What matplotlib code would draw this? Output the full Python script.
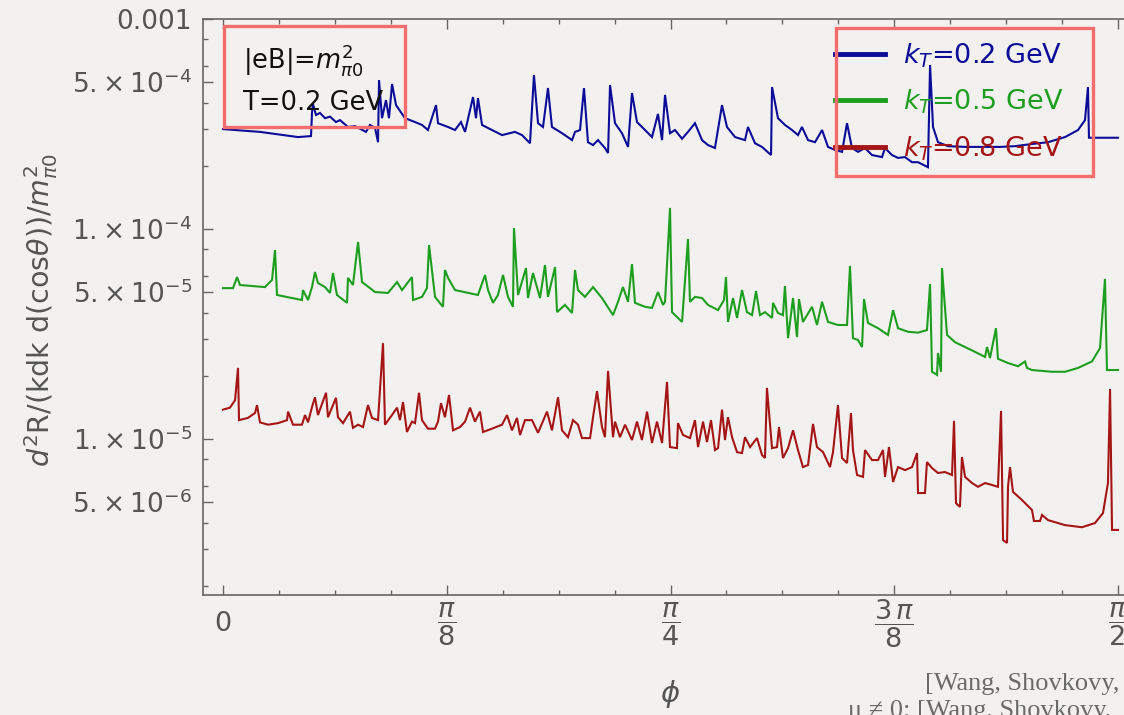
import numpy as np
import matplotlib
matplotlib.use("Agg")
import matplotlib.pyplot as plt
from matplotlib.patches import Rectangle
from matplotlib.ticker import FixedLocator, FixedFormatter, NullFormatter

W, H, DPI = 1124, 715, 100

# ---------------- data (phi in degrees, rate in units of 1e-5) ----------------
phi_02 = [0.0, 3.72, 7.54, 8.85, 8.95, 9.05, 9.35, 9.75, 10.26, 10.76, 11.36, 11.77, 12.57, 13.27, 14.38, 14.78,
          15.29, 15.59, 15.69, 15.99, 16.39, 16.69, 17.0, 17.4, 18.3, 19.31, 20.01, 20.61, 21.42, 21.62, 22.63,
          23.33, 23.93, 24.34, 25.14, 25.44, 25.64, 26.05, 27.05, 28.06, 29.36, 30.07, 30.87, 31.27, 31.68, 32.18,
          32.68, 33.08, 34.09, 35.1, 35.4, 35.9, 36.3, 36.7, 37.21, 37.71, 38.41, 38.72, 38.92, 39.42, 40.12, 40.73,
          41.13, 41.63, 42.44, 43.14, 43.74, 44.15, 44.45, 44.95, 45.45, 46.16, 46.76, 47.46, 48.17, 48.77, 49.47,
          50.18, 50.68, 51.49, 52.49, 52.79, 53.5, 54.2, 55.11, 55.21, 55.81, 56.51, 57.22, 57.82, 58.22, 58.83,
          59.53, 60.24, 60.84, 61.54, 62.25, 62.75, 63.25, 63.86, 64.56, 65.26, 66.27, 66.57, 67.27, 67.88, 68.58,
          69.29, 69.89, 70.89, 71.1, 71.4, 71.9, 72.91, 74.62, 76.63, 78.14, 79.64, 81.35, 82.96, 84.67, 85.98,
          86.68, 86.98, 87.08, 90.0]
rate_02 = [29.9, 29.0, 27.4, 27.7, 35.7, 39.3, 34.9, 35.7, 33.7, 34.3, 32.3, 33.0, 30.6, 30.9, 29.0, 31.3, 30.3,
           25.9, 51.2, 33.7, 41.1, 33.7, 49.0, 38.9, 33.7, 32.3, 31.3, 29.6, 38.9, 31.9, 30.6, 29.6, 32.3, 29.0,
           42.5, 33.7, 42.0, 31.3, 29.6, 28.0, 29.0, 28.0, 25.6, 54.1, 31.9, 30.6, 46.9, 30.6, 28.6, 26.5, 29.0,
           29.6, 46.9, 25.9, 25.1, 26.5, 24.3, 23.0, 48.5, 31.9, 28.6, 24.6, 44.4, 32.3, 29.6, 27.4, 35.3, 26.5,
           43.5, 28.6, 29.6, 26.9, 29.0, 31.9, 26.5, 25.1, 24.3, 38.9, 30.6, 27.4, 26.5, 30.6, 25.6, 24.6, 22.5,
           47.4, 33.7, 31.3, 29.6, 28.0, 30.6, 26.5, 25.9, 29.6, 24.6, 23.8, 23.3, 31.9, 24.3, 23.3, 24.3, 22.5,
           22.0, 24.3, 22.5, 21.8, 22.0, 20.8, 20.8, 19.7, 60.4, 30.6, 25.9, 24.8, 24.6, 24.6, 24.6, 24.8, 25.4,
           25.9, 27.4, 29.6, 33.0, 47.4, 27.2, 27.2]

phi_05 = [0.0, 1.01, 1.41, 1.71, 4.22, 4.93, 5.23, 5.43, 6.94, 7.94, 8.04, 8.55, 8.95, 9.25, 9.55, 10.26, 10.76,
          11.06, 11.46, 12.47, 12.57, 13.07, 13.58, 13.98, 15.29, 16.59, 17.5, 18.0, 19.0, 19.11, 20.01, 20.51,
          20.72, 21.32, 22.12, 22.32, 22.63, 23.33, 25.64, 26.35, 26.65, 27.15, 27.65, 28.16, 28.66, 29.16, 29.26,
          29.67, 30.47, 30.67, 31.17, 31.88, 32.38, 32.68, 33.39, 33.59, 34.39, 35.1, 35.4, 35.7, 36.4, 37.21,
          38.11, 39.22, 39.72, 40.22, 40.73, 41.13, 41.43, 42.44, 43.14, 43.74, 44.25, 44.45, 44.95, 45.15, 45.65,
          46.16, 46.46, 46.76, 46.96, 47.46, 48.17, 48.77, 49.78, 50.38, 50.58, 50.78, 51.29, 51.69, 52.19, 52.69,
          53.2, 53.6, 54.0, 54.5, 55.21, 55.31, 55.81, 56.31, 56.51, 56.82, 57.32, 57.72, 57.92, 58.32, 59.23,
          59.73, 60.24, 60.84, 61.84, 62.75, 63.05, 63.35, 63.86, 64.26, 64.46, 64.86, 65.87, 66.87, 67.38, 67.88,
          68.88, 69.89, 70.79, 71.1, 71.3, 71.8, 71.9, 72.2, 72.3, 72.81, 73.61, 74.62, 75.62, 76.63, 76.83, 77.13,
          77.73, 77.93, 78.94, 79.95, 80.65, 80.85, 81.35, 83.36, 84.67, 85.98, 87.38, 88.19, 88.69, 88.89, 90.0]
rate_05 = [5.23, 5.23, 5.90, 5.41, 5.29, 5.72, 7.94, 4.85, 4.69, 4.59, 5.12, 4.59, 5.29, 6.24, 5.53, 5.29, 4.96,
           6.17, 4.85, 4.45, 5.85, 5.41, 8.67, 5.59, 5.01, 4.96, 5.59, 5.12, 5.90, 4.59, 4.75, 5.23, 8.39, 4.75,
           4.26, 6.38, 5.85, 5.12, 4.85, 6.04, 5.12, 4.45, 4.85, 6.04, 4.75, 4.26, 10.1, 4.85, 6.52, 4.69, 6.17,
           4.69, 6.74, 4.75, 6.59, 4.02, 4.35, 3.98, 6.38, 5.12, 4.75, 5.29, 4.69, 3.89, 4.50, 5.29, 4.50, 6.81,
           4.45, 4.26, 4.21, 5.01, 4.35, 4.50, 12.6, 4.02, 3.81, 3.61, 5.72, 8.96, 4.50, 4.75, 4.69, 4.35, 4.11,
           4.59, 5.90, 3.61, 4.69, 3.77, 5.12, 4.02, 3.89, 5.06, 3.89, 4.02, 3.77, 4.45, 3.98, 3.89, 5.35, 3.02,
           4.69, 3.06, 4.64, 3.61, 4.26, 3.49, 4.50, 3.61, 3.49, 3.49, 6.67, 3.02, 2.96, 2.74, 4.64, 3.57, 3.37,
           3.13, 4.11, 3.37, 3.24, 3.21, 3.30, 5.47, 2.09, 2.02, 2.57, 2.09, 6.52, 3.13, 2.89, 2.74, 2.60, 2.46,
           2.74, 2.43, 3.37, 2.41, 2.30, 2.22, 2.34, 2.18, 2.13, 2.09, 2.09, 2.18, 2.34, 2.71, 5.78, 2.13, 2.13]

phi_08 = [0.0, 0.70, 1.21, 1.51, 1.61, 2.51, 3.22, 3.42, 3.72, 4.53, 5.53, 6.44, 6.54, 7.04, 7.94, 8.25, 8.55,
          8.95, 9.25, 9.55, 10.36, 10.56, 11.36, 11.56, 12.07, 12.77, 13.07, 13.58, 14.08, 14.58, 14.98, 15.59,
          16.09, 16.29, 16.99, 17.5, 17.8, 18.1, 18.5, 19.0, 19.31, 19.71, 20.01, 20.61, 21.32, 21.62, 21.92,
          22.32, 22.73, 23.13, 23.83, 24.34, 24.84, 25.34, 25.84, 26.15, 27.05, 28.06, 28.56, 29.06, 29.56, 29.87,
          30.37, 31.07, 31.68, 32.58, 33.08, 33.69, 34.09, 34.69, 35.2, 35.7, 36.1, 36.91, 37.21, 37.61, 38.11,
          38.41, 38.72, 39.22, 39.42, 39.92, 40.43, 41.13, 41.63, 42.13, 42.64, 43.14, 43.64, 44.15, 44.65, 44.95,
          45.65, 45.75, 46.26, 46.96, 47.46, 47.77, 48.27, 48.67, 49.07, 49.48, 49.78, 50.18, 50.48, 50.78, 51.19,
          51.69, 52.19, 52.49, 53.0, 53.7, 54.2, 54.5, 54.7, 55.21, 55.71, 55.91, 56.31, 56.82, 57.32, 57.82,
          58.32, 58.83, 59.33, 59.73, 60.34, 61.04, 61.34, 61.84, 62.25, 62.75, 63.15, 63.35, 63.76, 64.36, 64.56,
          65.26, 65.87, 66.37, 66.57, 66.97, 67.38, 67.88, 68.58, 69.29, 69.79, 69.89, 70.59, 70.79, 71.3, 71.9,
          72.6, 73.31, 73.51, 73.71, 74.11, 74.31, 74.62, 75.32, 75.92, 76.63, 77.33, 77.93, 78.24, 78.44, 78.84,
          78.94, 79.14, 79.44, 80.35, 81.35, 81.55, 82.16, 82.36, 82.96, 84.67, 86.38, 87.69, 88.49, 88.99, 89.2,
          89.4, 90.0]
rate_08 = [1.38, 1.41, 1.53, 2.18, 1.23, 1.26, 1.33, 1.45, 1.20, 1.17, 1.19, 1.23, 1.35, 1.17, 1.17, 1.30, 1.20,
           1.42, 1.58, 1.30, 1.66, 1.27, 1.57, 1.27, 1.19, 1.35, 1.13, 1.17, 1.14, 1.45, 1.26, 1.23, 2.86, 1.17,
           1.30, 1.41, 1.23, 1.50, 1.08, 1.21, 1.19, 1.66, 1.23, 1.12, 1.12, 1.21, 1.48, 1.27, 1.62, 1.10, 1.14,
           1.21, 1.41, 1.21, 1.35, 1.08, 1.12, 1.17, 1.30, 1.10, 1.26, 1.045, 1.23, 1.23, 1.07, 1.35, 1.10, 1.58,
           1.10, 1.02, 1.23, 1.17, 1.01, 1.01, 1.27, 1.69, 1.14, 1.02, 2.11, 1.02, 1.21, 1.02, 1.17, 0.989, 1.21,
           0.989, 1.35, 0.957, 1.21, 0.957, 1.87, 0.915, 0.905, 1.19, 1.045, 1.01, 1.23, 0.915, 1.21, 0.967, 1.23,
           0.886, 0.905, 1.38, 0.989, 1.27, 1.02, 0.866, 0.857, 1.02, 0.915, 1.01, 0.839, 0.812, 1.75, 0.905,
           0.915, 1.14, 0.812, 0.905, 1.10, 0.886, 0.735, 0.752, 1.18, 0.915, 0.866, 0.735, 0.866, 1.45, 0.812,
           0.768, 1.33, 0.886, 0.674, 0.660, 0.886, 0.794, 0.794, 0.886, 0.660, 0.915, 0.624, 0.735, 0.711, 0.735,
           0.857, 0.553, 0.553, 0.776, 0.727, 0.689, 0.696, 0.674, 1.22, 0.494, 0.475, 0.820, 0.660, 0.617, 0.592,
           0.617, 0.604, 0.592, 1.36, 0.330, 0.320, 0.592, 0.735, 0.560, 0.512, 0.459, 0.407, 0.407, 0.435, 0.411,
           0.389, 0.380, 0.398, 0.444, 0.617, 1.73, 0.369, 0.369]

RATE_UNIT = 1e-5
series_phi = [phi_02, phi_05, phi_08]
series_rate = [rate_02, rate_05, rate_08]
series_labels = [r"$k_T$=0.2 GeV", r"$k_T$=0.5 GeV", r"$k_T$=0.8 GeV"]
series_colors = ["#0c0c98", "#1e9e1e", "#a51515"]

ytick_values = [5e-6, 1e-5, 5e-5, 1e-4, 5e-4, 1e-3]
ytick_labels = ["5.\u2009×\u200910$^{-6}$", "1.\u2009×\u200910$^{-5}$", "5.\u2009×\u200910$^{-5}$",
                "1.\u2009×\u200910$^{-4}$", "5.\u2009×\u200910$^{-4}$", "0.001"]
xtick_eighths = [0, 1, 2, 3, 4]
xtick_labels = ["0", r"$\dfrac{\pi}{8}$", r"$\dfrac{\pi}{4}$", r"$\dfrac{3\,\pi}{8}$", r"$\dfrac{\pi}{2}$"]

# ---------------- style ----------------
plt.rcParams["font.family"] = ["DejaVu Sans"]
plt.rcParams["mathtext.fontset"] = "dejavusans"
BG = "#f2f1f0"
AXC = "#666666"
TXC = "#555555"

fig = plt.figure(figsize=(W / DPI, H / DPI), dpi=DPI, facecolor=BG)
ax = fig.add_axes([203 / W, 120 / H, 935 / W, 576 / H])
ax.set_facecolor(BG)

for phi, rate, col, lab in zip(series_phi, series_rate, series_colors, series_labels):
    ax.plot(np.deg2rad(phi), np.array(rate) * RATE_UNIT, color=col, lw=1.5, label=lab,
            solid_joinstyle="miter")

ax.set_yscale("log")
ax.set_xlim(-20 / 895 * np.pi / 2, 915 / 895 * np.pi / 2)
ax.set_ylim(1.0e-3 * 10 ** (-576 / 210), 1.0e-3)

ax.yaxis.set_major_locator(FixedLocator(ytick_values))
ax.yaxis.set_major_formatter(FixedFormatter(ytick_labels))
yminor = [m * 10.0 ** e for e in (-6, -5, -4) for m in (2, 3, 4, 6, 8)]
ax.yaxis.set_minor_locator(FixedLocator(yminor))
ax.yaxis.set_minor_formatter(NullFormatter())

ax.xaxis.set_major_locator(FixedLocator(np.array(xtick_eighths) * np.pi / 8))
ax.xaxis.set_major_formatter(FixedFormatter(xtick_labels))
xminor = [k * np.pi / 32 for k in range(17) if k % 4 != 0]
ax.xaxis.set_minor_locator(FixedLocator(xminor))
ax.xaxis.set_minor_formatter(NullFormatter())

ax.tick_params(which="both", direction="in", top=True, right=True, color=AXC, width=1.0,
               labelcolor=TXC)
ax.tick_params(which="major", length=7.5)
ax.tick_params(which="minor", length=3.8)
ax.tick_params(axis="y", labelsize=19, pad=8)
ax.tick_params(axis="x", labelsize=19.5, pad=21)
for lbl in ax.get_xticklabels():
    lbl.set_va("center")
for sp in ax.spines.values():
    sp.set_color(AXC)
    sp.set_linewidth(1.2)

# legend
leg = ax.legend(loc="upper left", bbox_to_anchor=(835 / W, 1 - 41 / H), bbox_transform=fig.transFigure,
                frameon=False, fontsize=19.5, handlelength=1.85, handletextpad=0.65, labelspacing=0.68,
                borderpad=0, borderaxespad=0, labelcolor="linecolor")
for ln in leg.get_lines():
    ln.set_linewidth(3.5)

# annotation text
fig.text(243 / W, 1 - 60 / H, r"|eB|=$m_{\pi0}^{2}$", fontsize=18.5, color="#111111", va="center", ha="left")
fig.text(243 / W, 1 - 103 / H, "T=0.2 GeV", fontsize=18.5, color="#111111", va="center", ha="left")

# axis labels
fig.text(670 / W, 1 - 694 / H, "ϕ", fontsize=21, style="italic", color=TXC, ha="center", va="center")
fig.text(41 / W, 1 - 310 / H, r"$d^2$R/(kdk d(cos$\theta$))/$m_{\pi0}^{2}$", fontsize=20.5, color=TXC,
         rotation=90, ha="center", va="center")

# highlight boxes
BOXC = "#f36d6d"
fig.patches.append(Rectangle((224 / W, 1 - 127 / H), 181 / W, 101 / H, transform=fig.transFigure,
                             fill=False, edgecolor=BOXC, lw=2.4, zorder=5))
fig.patches.append(Rectangle((836 / W, 1 - 176 / H), 257 / W, 148 / H, transform=fig.transFigure,
                             fill=False, edgecolor=BOXC, lw=2.4, zorder=5))

# citation (cut at the figure edge as in the source slide)
fig.text(925 / W, 1 - 684 / H, "[Wang, Shovkovy,", fontsize=19, family="Liberation Serif",
         color="#6a6a6a", ha="left", va="center")
fig.text(848 / W, 1 - 711 / H, "μ ≠ 0: [Wang, Shovkovy,", fontsize=19, family="Liberation Serif",
         color="#6a6a6a", ha="left", va="center")

fig.savefig("out.png", dpi=DPI, facecolor=BG)
